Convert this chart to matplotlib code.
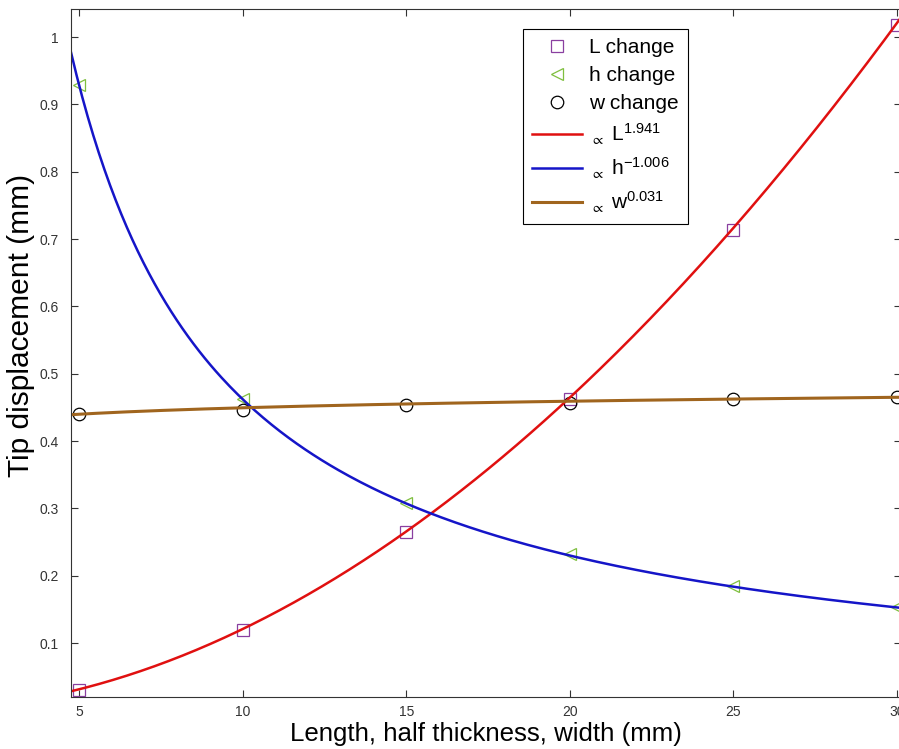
import numpy as np
import matplotlib.pyplot as plt

plt.rcParams['font.family'] = ['Liberation Sans', 'DejaVu Sans']
plt.rcParams['mathtext.fontset'] = 'custom'
plt.rcParams['mathtext.rm'] = 'Liberation Sans'
plt.rcParams['mathtext.default'] = 'regular'

x_pts = [5, 10, 15, 20, 25, 30]
L_change = [0.030, 0.120, 0.265, 0.462, 0.714, 1.018]
h_change = [0.928, 0.462, 0.308, 0.232, 0.185, 0.154]
w_change = [0.440, 0.446, 0.453, 0.457, 0.462, 0.465]

# fitted power laws: coef * x^expo
L_fit = (0.001386, 1.941)
h_fit = (4.685, -1.006)
w_fit = (0.4185, 0.031)

fig = plt.figure(figsize=(8.99, 7.49), dpi=100)
ax = fig.add_axes([0.079, 0.0694, 0.923, 0.9186])

xs = np.linspace(4.75, 30.2, 300)
ax.plot(x_pts, L_change, 's', mfc='none', mec='#8a3fa0', ms=8.5, mew=0.9, label='L change')
ax.plot(x_pts, h_change, '<', mfc='none', mec='#7fbf3f', ms=9, mew=0.9, label='h change')
ax.plot(x_pts, w_change, 'o', mfc='none', mec='black', ms=9, mew=0.9, label='w change')
ax.plot(xs, L_fit[0] * xs ** L_fit[1], color='#e01010', lw=1.8, label=r'$_{\propto}$ L$^{1.941}$')
ax.plot(xs, h_fit[0] * xs ** h_fit[1], color='#1515c8', lw=1.8, label=r'$_{\propto}$ h$^{-1.006}$')
ax.plot(xs, w_fit[0] * xs ** w_fit[1], color='#a0651e', lw=2.2, label=r'$_{\propto}$ w$^{0.031}$')

ax.set_xlim(4.75, 30.12)
ax.set_ylim(0.02, 1.0416)
ax.set_xticks([5, 10, 15, 20, 25, 30])
ax.set_yticks([0.1, 0.2, 0.3, 0.4, 0.5, 0.6, 0.7, 0.8, 0.9, 1.0])
ax.set_yticklabels(['0.1', '0.2', '0.3', '0.4', '0.5', '0.6', '0.7', '0.8', '0.9', '1'])
ax.tick_params(direction='in', top=True, right=True, length=5, labelsize=10, colors='#333333')
ax.tick_params(axis='y', pad=9)
ax.tick_params(axis='x', pad=6)
for s in ax.spines.values():
    s.set_linewidth(0.8)
    s.set_color('#333333')

ax.set_xlabel('Length, half thickness, width (mm)', fontsize=18.6, labelpad=2)
ax.set_ylabel('Tip displacement (mm)', fontsize=21.5, labelpad=0)
ax.yaxis.set_label_coords(-0.043, 0.54)

leg = ax.legend(loc='upper left', bbox_to_anchor=(0.5446, 0.971), fontsize=15, handlelength=2.4,
                fancybox=False, edgecolor='black', framealpha=1, borderpad=0.45, labelspacing=0.42,
                handletextpad=0.3, borderaxespad=0)
leg.get_frame().set_linewidth(0.8)

fig.savefig('out.png', dpi=100)
